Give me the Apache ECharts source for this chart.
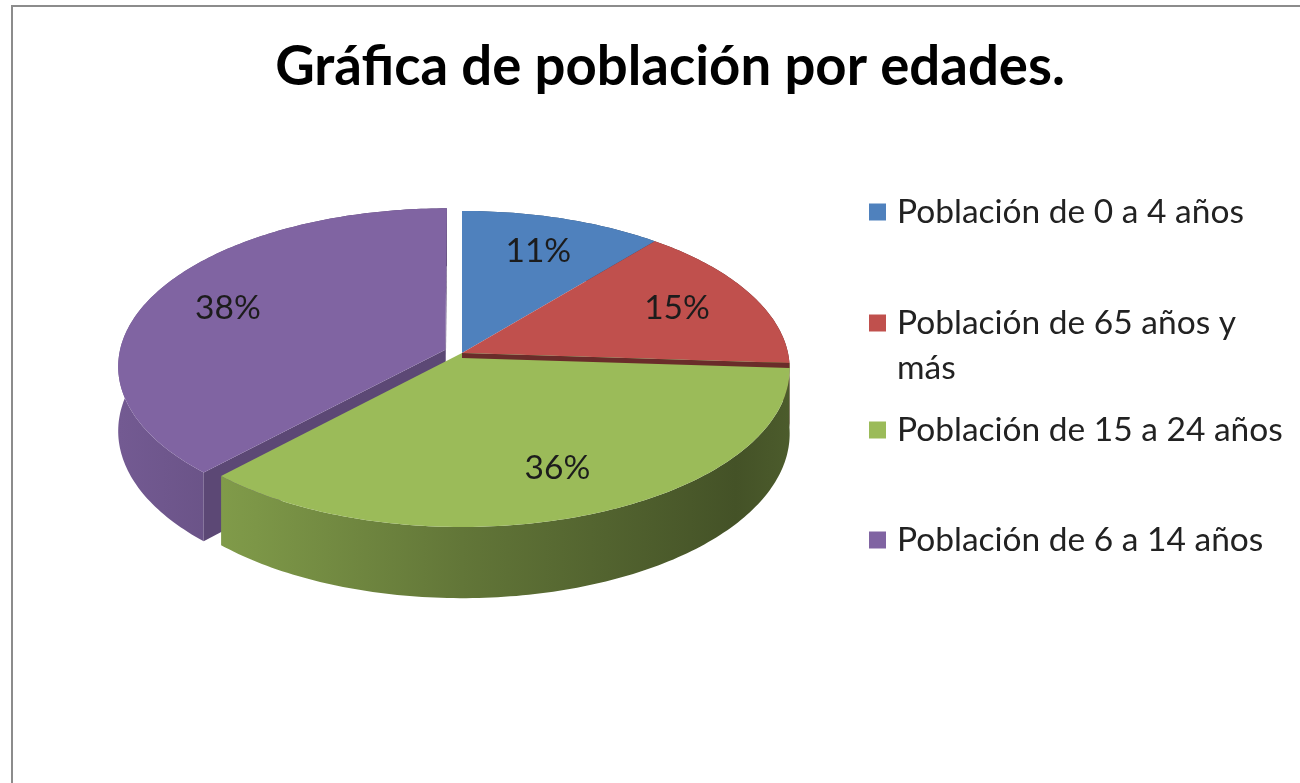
<!DOCTYPE html>
<html>
<head>
<meta charset="utf-8">
<title>Gráfica de población por edades</title>
<script src="https://cdn.jsdelivr.net/npm/echarts@6/dist/echarts.min.js"></script>
<style>
  html, body { margin: 0; padding: 0; background: #ffffff; }
  #chart { width: 1300px; height: 783px; }
</style>
</head>
<body>
<div id="chart"></div>
<script>
// ---- data ----
const categories = [
  'Población de 0 a 4 años',
  'Población de 65 años y más',
  'Población de 15 a 24 años',
  'Población de 6 a 14 años'
];
const values = [11, 15, 36, 38];
const colors = ['#4f81bd', '#c0504d', '#9bbb59', '#8064a2'];
const titleText = 'Gráfica de población por edades.';

// ---- layout of the tilted 3D disc ----
const CX = 462, CY = 353;      // projected centre of the top face
const SX = 326, SY = 156.4;    // horizontal / vertical radius before perspective
const PERSP = 0.101;           // perspective strength (front is larger)
const DEPTH = 64;              // thickness of the disc
const EXPLODED = 3;            // slice pulled out of the pie
const EXPLODE_DIST = 0.055;
const LABEL_R = 0.74;
const FONT = 'Lato, "Open Sans", sans-serif';
const TEXT_SIZE = 33.5;
const LEGEND_WRAP = 388;

const total = values.reduce((a, b) => a + b, 0);
const starts = [];
values.reduce((acc, v) => { starts.push(acc); return acc + v; }, 0);

function project(theta, r, z, off) {
  const u = r * Math.sin(theta) + off[0];
  const v = -r * Math.cos(theta) + off[1];
  const w = 1 - PERSP * v;
  return [CX + SX * u / w, CY + (SY * v + z) / w];
}

function shade(hex, f) {
  const n = parseInt(hex.slice(1), 16);
  const c = [(n >> 16) & 255, (n >> 8) & 255, n & 255].map(x => Math.round(x * f));
  return 'rgb(' + c.join(',') + ')';
}

function wallGradient(color) {
  return {
    type: 'linear', global: true,
    x: CX - SX * 1.05, y: 0, x2: CX + SX * 1.05, y2: 0,
    colorStops: [
      { offset: 0, color: shade(color, 0.9) },
      { offset: 0.2, color: shade(color, 0.8) },
      { offset: 0.5, color: shade(color, 0.63) },
      { offset: 0.9, color: shade(color, 0.44) },
      { offset: 1, color: shade(color, 0.5) }
    ]
  };
}

function makeRenderItem(i) {
  return function (params, api) {
    const val = api.value(0);
    const a0 = starts[i] / total * Math.PI * 2;
    const a1 = (starts[i] + val) / total * Math.PI * 2;
    const mid = (a0 + a1) / 2;
    const e = i === EXPLODED ? EXPLODE_DIST : 0;
    const off = [e * Math.sin(mid), -e * Math.cos(mid)];
    const color = colors[i];
    const n = Math.max(2, Math.ceil((a1 - a0) / (Math.PI / 180)));

    const rimTop = [], rimBot = [];
    for (let k = 0; k <= n; k++) {
      const t = a0 + (a1 - a0) * k / n;
      rimTop.push(project(t, 1, 0, off));
      rimBot.push(project(t, 1, DEPTH, off));
    }
    const cTop = project(0, 0, 0, off);
    const cBot = project(0, 0, DEPTH, off);
    const children = [];

    // outer wall
    children.push({
      type: 'polygon', z2: 1,
      shape: { points: rimTop.concat(rimBot.slice().reverse()) },
      style: { fill: wallGradient(color) }
    });

    // cut faces of a pulled-out slice
    if (e > 0) {
      [a1, a0].forEach(t => {
        children.push({
          type: 'polygon', z2: 2,
          shape: { points: [cTop, project(t, 1, 0, off), project(t, 1, DEPTH, off), cBot] },
          style: { fill: shade(color, 0.72) }
        });
      });
    }

    // top face
    children.push({
      type: 'polygon', z2: 3,
      shape: { points: [cTop].concat(rimTop) },
      style: { fill: color }
    });

    // thin seam along a radial edge that faces the viewer
    const endDeg = a1 * 180 / Math.PI;
    if (e === 0 && endDeg > 60 && endDeg < 120) {
      const seam = 5;
      children.push({
        type: 'polygon', z2: 4,
        shape: { points: [cTop, project(a1, 1, 0, off), project(a1, 1, seam, off), project(0, 0, seam, off)] },
        style: { fill: shade(color, 0.55) }
      });
    }

    // percentage label
    const lp = project(mid, LABEL_R, 0, off);
    children.push({
      type: 'text', z2: 10,
      x: lp[0], y: lp[1],
      style: {
        text: Math.round(val / total * 100) + '%',
        fontFamily: FONT, fontSize: TEXT_SIZE,
        fill: '#1c1c1c',
        align: 'center', verticalAlign: 'middle'
      }
    });

    return { type: 'group', children: children };
  };
}

// wrap legend text the way the legend box does
const measureCtx = document.createElement('canvas').getContext('2d');
function wrapLegend(name) {
  measureCtx.font = TEXT_SIZE + 'px ' + FONT;
  const words = name.split(' ');
  const lines = [];
  let line = '';
  words.forEach(w => {
    const test = line ? line + ' ' + w : w;
    if (line && measureCtx.measureText(test).width > LEGEND_WRAP) {
      lines.push(line); line = w;
    } else {
      line = test;
    }
  });
  lines.push(line);
  return lines;
}

const LINE_H = 45;
const legendCentres = [212, 323, 430, 540];

const chart = echarts.init(document.getElementById('chart'), null, { renderer: 'canvas' });
chart.setOption({
  animation: false,
  backgroundColor: '#ffffff',
  color: colors,
  title: {
    text: titleText,
    left: 665, top: 35,
    textAlign: 'center',
    textStyle: { fontFamily: FONT, fontWeight: 'bold', fontSize: 54.5, color: '#000000' }
  },
  legend: categories.map((name, i) => {
    const lines = wrapLegend(name);
    // blank lead lines keep the marker level with the first text line
    const shown = new Array(lines.length - 1).fill('').concat(lines);
    const blockH = LINE_H * shown.length;
    return {
      data: [name],
      orient: 'vertical',
      left: 869,
      top: legendCentres[i] - blockH / 2,
      padding: 0,
      icon: 'rect',
      itemWidth: 17,
      itemHeight: 17,
      selectedMode: false,
      formatter: () => shown.join('\n'),
      textStyle: {
        fontFamily: FONT, fontSize: TEXT_SIZE, color: '#222222',
        lineHeight: LINE_H,
        padding: [0, 0, 0, 6]
      }
    };
  }),
  graphic: [{
    type: 'rect', silent: true,
    shape: { x: 12, y: 6, width: 1400, height: 900 },
    style: { fill: 'none', stroke: '#8c8c8c', lineWidth: 2 }
  }],
  series: categories.map((name, i) => ({
    type: 'custom',
    name: name,
    coordinateSystem: 'none',
    silent: true,
    z: i === EXPLODED ? 1 : 2,
    itemStyle: { color: colors[i] },
    data: [[values[i]]],
    renderItem: makeRenderItem(i)
  }))
});
</script>
</body>
</html>
